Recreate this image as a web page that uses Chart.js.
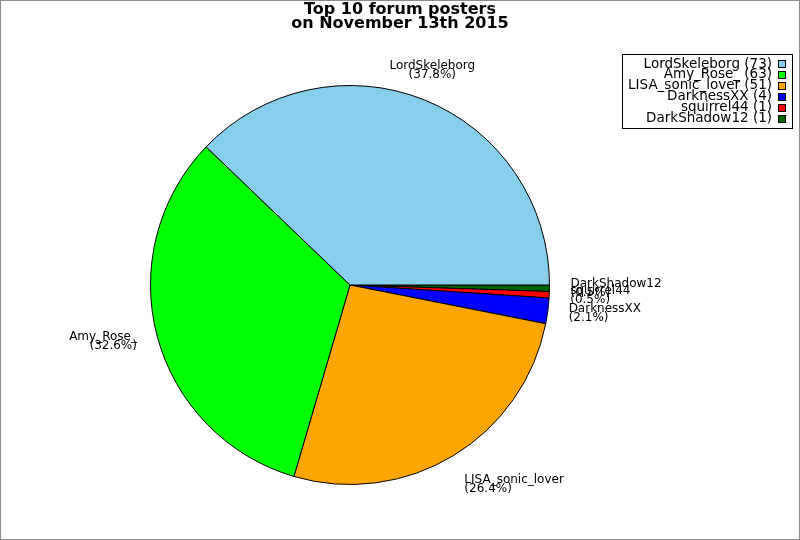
<!DOCTYPE html>
<html>
<head>
<meta charset="utf-8">
<script src="https://cdn.jsdelivr.net/npm/chart.js@4.4.0/dist/chart.umd.min.js"></script>
<style>
    html, body { margin: 0; padding: 0; background: #fff; }
    #wrap { width: 800px; height: 540px; position: relative; }
</style>
</head>
<body>
<div id="wrap"><canvas id="pieChart" width="800" height="540"></canvas></div>
<script>
    // Datos del gráfico (orden de la leyenda)
    const posters = ["LordSkeleborg", "Amy_Rose_", "LISA_sonic_lover", "DarknessXX", "squirrel44", "DarkShadow12"];
    const posts = [73, 63, 51, 4, 1, 1];
    const colores = ["#87ceeb", "#00ff00", "#ffa500", "#0000ff", "#ff0000", "#006400"];
    const titulo = ["Top 10 forum posters", "on November 13th 2015"];

    const total = posts.reduce((a, b) => a + b, 0);

    // Chart.js dibuja en sentido horario: se invierte el orden para que
    // la primera porción quede en sentido antihorario desde las 3 en punto
    const nombresInv = posters.slice().reverse();
    const postsInv = posts.slice().reverse();
    const coloresInv = colores.slice().reverse();

    // Marco, título y leyenda
    const marcoPlugin = {
        id: "marco",
        beforeDraw(chart) {
            const ctx = chart.ctx;
            ctx.save();
            ctx.fillStyle = "#fff";
            ctx.fillRect(0, 0, chart.width, chart.height);
            ctx.strokeStyle = "#8c8c8c";
            ctx.lineWidth = 1;
            ctx.strokeRect(0.5, 0.5, chart.width - 1, chart.height - 1);
            ctx.restore();
        },
        afterDraw(chart) {
            const ctx = chart.ctx;
            ctx.save();
            ctx.fillStyle = "#000";
            ctx.font = "bold 16px 'DejaVu Sans'";
            ctx.textAlign = "center";
            ctx.textBaseline = "middle";
            titulo.forEach((t, i) => ctx.fillText(t, 400, 10 + i * 14));

            // Leyenda
            ctx.strokeStyle = "#000";
            ctx.lineWidth = 1;
            ctx.strokeRect(622.5, 54.5, 170, 74);
            ctx.font = "13.5px 'DejaVu Sans'";
            ctx.textAlign = "right";
            posters.forEach((p, i) => {
                const y = 64 + i * 10.9;
                ctx.fillStyle = "#000";
                ctx.fillText(`${p} (${posts[i]})`, 772, y);
                ctx.fillStyle = colores[i];
                ctx.fillRect(778.5, Math.round(y) - 3.5, 7, 7);
                ctx.strokeRect(778.5, Math.round(y) - 3.5, 7, 7);
            });
            ctx.restore();
        }
    };

    // Etiquetas fuera de la torta
    const etiquetasPlugin = {
        id: "etiquetas",
        afterDatasetsDraw(chart) {
            const ctx = chart.ctx;
            const meta = chart.getDatasetMeta(0);
            ctx.save();
            ctx.fillStyle = "#000";
            ctx.font = "12px 'DejaVu Sans'";
            meta.data.forEach((arc, i) => {
                const mid = (arc.startAngle + arc.endAngle) / 2;
                const R = arc.outerRadius + 21;
                const cx = Math.cos(mid), sy = Math.sin(mid);
                const x = arc.x + cx * R;
                const y = arc.y + sy * R;
                const pct = (postsInv[i] / total * 100).toFixed(1);
                const lineas = [nombresInv[i], `(${pct}%)`];

                ctx.textAlign = cx > 0.45 ? "left" : (cx < -0.45 ? "right" : "center");
                let y0;
                if (sy < -0.7) {
                    ctx.textBaseline = "bottom";
                    y0 = y - 9;
                } else if (sy > 0.7) {
                    ctx.textBaseline = "top";
                    y0 = y;
                } else {
                    ctx.textBaseline = "middle";
                    y0 = y - 4.5;
                }
                lineas.forEach((l, k) => ctx.fillText(l, x, y0 + k * 9));
            });
            ctx.restore();
        }
    };

    new Chart(document.getElementById("pieChart"), {
        type: "pie",
        data: {
            labels: nombresInv,
            datasets: [{
                data: postsInv,
                backgroundColor: coloresInv,
                borderColor: "#000",
                borderWidth: 1
            }]
        },
        options: {
            responsive: false,
            animation: false,
            rotation: 90,
            layout: { padding: { left: 150, right: 250, top: 85, bottom: 55 } },
            plugins: {
                legend: { display: false },
                title: { display: false },
                tooltip: { enabled: false }
            }
        },
        plugins: [marcoPlugin, etiquetasPlugin]
    });
</script>
</body>
</html>
